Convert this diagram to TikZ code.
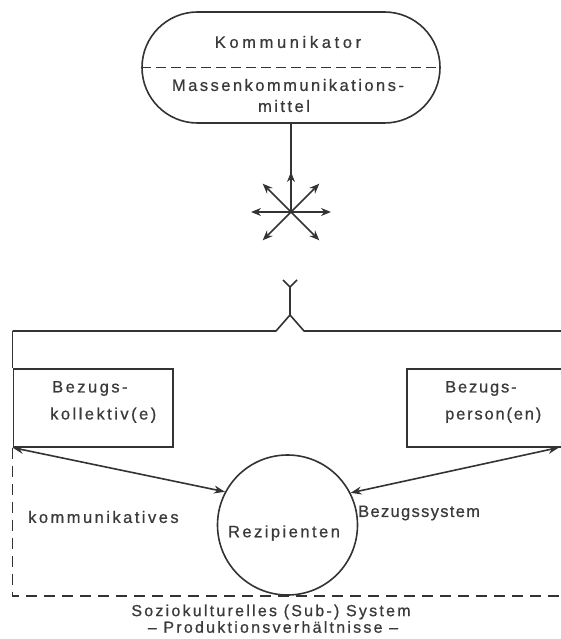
\documentclass[tikz,border=0pt]{standalone}
\usepackage{fontspec}
\setmainfont{Liberation Sans}[LetterSpace=15,FakeBold=0.7]
\newfontfamily\wideface{Liberation Sans}[LetterSpace=22,FakeBold=0.7]
\newfontfamily\narrowface{Liberation Sans}[LetterSpace=11,FakeBold=0.7]
\newfontfamily\bottomface{Liberation Sans}[LetterSpace=14,FakeBold=0.7]
\newfontfamily\tightface{Liberation Sans}[LetterSpace=8,FakeBold=0.7]
\usetikzlibrary{shapes.misc,arrows.meta,calc}
\definecolor{ink}{HTML}{333333}
\definecolor{txt}{HTML}{3A3A3A}
\tikzset{
  lw/.style={line width=1.6pt, draw=ink},
  lbl/.style={text=txt, inner sep=0pt, font=\fontsize{16.5}{27}\selectfont},
  tip/.style={-{Stealth[length=10pt,width=8pt]}},
  dtip/.style={{Stealth[length=11pt,width=8pt]}-{Stealth[length=11pt,width=8pt]}},
  dsh/.style={dash pattern=on 11pt off 7pt}
}
\begin{document}
\begin{tikzpicture}[x=1pt,y=-1pt]
\useasboundingbox (0,0) rectangle (561,639);
\clip (0,0) rectangle (561,639);
% Kommunikator stadium
\node[rounded rectangle, lw, minimum width=298pt, minimum height=111pt, inner sep=0pt] (komm) at (291,67.5) {};
\draw[lw, dash pattern=on 10pt off 5pt] (komm.west) -- (komm.east);
\node[lbl, font=\wideface\fontsize{16.5}{27}\selectfont] (t1) at (288,42) {Kommunikator};
\node[lbl] (t2) at (288,85) {Massenkommunikations-};
\node[lbl] (t3) at (284,106) {mittel};
% star
\coordinate (star) at (291,212);
\draw[lw] (komm.south) -- (star);
\foreach \a in {0,45,135,180,225,270,315}
  \draw[lw, tip] (star) -- ($(star)+(\a:40)$);
% Y fork
\coordinate (ya) at (283,280);
\coordinate (yb) at (297,280);
\coordinate (yc) at (290,287);
\coordinate (ys) at (290,315);
\coordinate (yl) at (276,331);
\coordinate (yr) at (304,331);
\coordinate (ll) at (12.5,331);
\coordinate (rr) at (600,331);
\draw[lw] (ya) -- (yc) -- (yb);
\draw[lw, line join=round] (yc) -- (ys) -- (yl) -- (ll);
\draw[lw, line join=round] (ys) -- (yr) -- (rr);
% boxes
\node[rectangle, lw, minimum width=159.5pt, minimum height=78pt, inner sep=0pt, anchor=north west] (lbox) at (12.5,368) {};
\node[rectangle, lw, minimum width=220pt, minimum height=78pt, inner sep=0pt, anchor=north west] (rbox) at (406,368) {};
\draw[lw] (ll) -- (lbox.north west);
\node[lbl, anchor=west, align=left] (lt) at (50,402) {\hspace{2pt}Bezugs-\\kollektiv(e)};
\node[lbl, anchor=west, align=left, font=\narrowface\fontsize{16.5}{27}\selectfont] (rt) at (445,402) {Bezugs-\\person(en)};
% Rezipienten
\node[circle, lw, minimum size=140pt, inner sep=0pt] (rez) at (287.5,525) {};
\node[lbl] (rzt) at (284,533) {Rezipienten};
% arrows
\coordinate (rtip) at (559,447.5);
\draw[lw, dtip] (lbox.south west) -- (rez.152);
\draw[lw, dtip] (rez.27) -- (rtip);
% dashed system border
\coordinate (dc) at (12.5,596);
\coordinate (de) at (600,596);
\draw[lw, dsh] (lbox.south west) -- (dc) -- (de);
% labels
\node[lbl, anchor=west] (kl) at (28,517) {kommunikatives};
\node[lbl, anchor=west, font=\tightface\fontsize{16.5}{27}\selectfont] (bl) at (358,513) {Bezugssystem};
\node[lbl, font=\bottomface\fontsize{16}{20}\selectfont] (s1) at (271,612) {Soziokulturelles (Sub-) System};
\node[lbl, font=\bottomface\fontsize{16}{20}\selectfont] (s2) at (273,627) {– Produktionsverhältnisse –};
\end{tikzpicture}
\end{document}
